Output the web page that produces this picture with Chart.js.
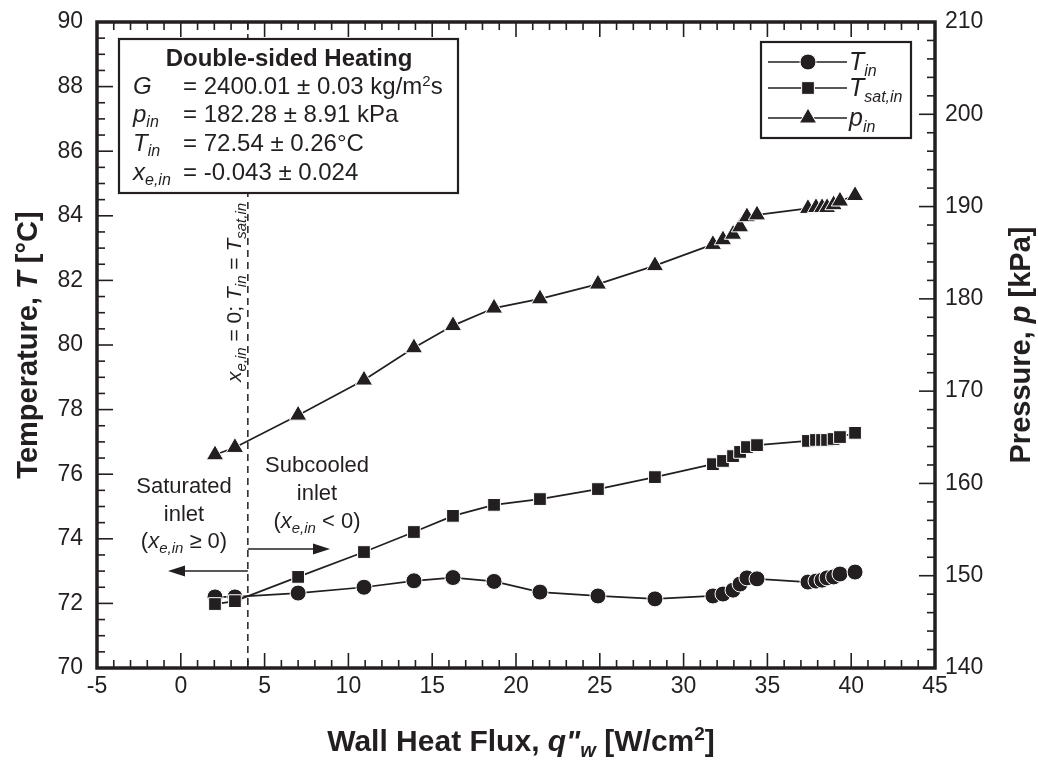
<!DOCTYPE html>
<html><head><meta charset="utf-8">
<script src="https://cdn.jsdelivr.net/npm/chart.js@4.4.1/dist/chart.umd.min.js"></script>
<style>html,body{margin:0;padding:0;background:#fff;}#wrap{width:1038px;height:761px;position:relative}</style>
</head><body><div id="wrap"><canvas id="c" width="1038" height="761"></canvas></div>
<script>
// ---- data ----
const qFlux  = [2.04, 3.23, 7.0, 10.93, 13.91, 16.24, 18.69, 21.43, 24.89, 28.29, 31.75, 32.35, 32.95, 33.37, 33.78, 34.38, 37.42, 37.9, 38.26, 38.56, 38.95, 39.33, 40.23];
const tIn    = [72.2, 72.2, 72.32, 72.5, 72.7, 72.8, 72.68, 72.35, 72.23, 72.14, 72.23, 72.29, 72.41, 72.6, 72.79, 72.76, 72.66, 72.69, 72.72, 72.79, 72.82, 72.91, 72.97];
const tSatIn = [71.98, 72.07, 72.82, 73.59, 74.21, 74.71, 75.05, 75.23, 75.54, 75.91, 76.31, 76.41, 76.56, 76.69, 76.84, 76.9, 77.03, 77.06, 77.06, 77.06, 77.09, 77.15, 77.28];
const pIn    = [163.1, 163.9, 167.4, 171.2, 174.7, 177.1, 179.0, 180.0, 181.6, 183.6, 185.9, 186.4, 187.0, 187.8, 188.9, 189.1, 189.8, 189.9, 189.9, 189.9, 190.2, 190.6, 191.2];
const xTicks = [-5, 0, 5, 10, 15, 20, 25, 30, 35, 40, 45];
const tTicks = [70, 72, 74, 76, 78, 80, 82, 84, 86, 88, 90];
const pTicks = [140, 150, 160, 170, 180, 190, 200, 210];
const satBoundary = 4;

const INK = '#231f20';
const FAM = '"Liberation Sans", Arial, Helvetica, sans-serif';

function rich(ctx, segs, x, y, align) {
  let w = 0;
  segs.forEach(s => { ctx.font = s[1]; w += ctx.measureText(s[0]).width; });
  let cx = align === 'center' ? x - w / 2 : (align === 'right' ? x - w : x);
  ctx.textAlign = 'left'; ctx.textBaseline = 'alphabetic';
  segs.forEach(s => { ctx.font = s[1]; ctx.fillText(s[0], cx, y + (s[2] || 0)); cx += ctx.measureText(s[0]).width; });
}
function seg(ctx, x1, y1, x2, y2) { ctx.beginPath(); ctx.moveTo(x1, y1); ctx.lineTo(x2, y2); ctx.stroke(); }
function arrow(ctx, x1, y, x2) {
  const dir = Math.sign(x2 - x1), hl = 17, hw = 5.5;
  ctx.lineWidth = 1.7; seg(ctx, x1, y, x2 - dir * hl + dir, y);
  ctx.beginPath(); ctx.moveTo(x2, y); ctx.lineTo(x2 - dir * hl, y - hw); ctx.lineTo(x2 - dir * hl, y + hw); ctx.closePath(); ctx.fill();
}

const R = (s) => 'normal ' + s + 'px ' + FAM;
const I = (s) => 'italic ' + s + 'px ' + FAM;
const B = (s) => 'bold ' + s + 'px ' + FAM;
const BI = (s) => 'italic bold ' + s + 'px ' + FAM;

const decor = {
  id: 'decor',
  beforeDatasetsDraw(chart) {
    const ctx = chart.ctx, ca = chart.chartArea, xs = chart.scales.x;
    ctx.save();
    ctx.strokeStyle = INK; ctx.lineWidth = 1.5; ctx.setLineDash([7, 5]);
    const bx = xs.getPixelForValue(satBoundary);
    seg(ctx, bx, ca.top, bx, ca.bottom);
    ctx.setLineDash([]);
    ctx.fillStyle = INK; ctx.strokeStyle = INK;
    arrow(ctx, bx, 549, 330);
    arrow(ctx, bx, 571, 168);
    ctx.restore();
  },
  afterDatasetsDraw(chart) {
    const ctx = chart.ctx, ca = chart.chartArea, xs = chart.scales.x, ys = chart.scales.y, ps = chart.scales.p;
    ctx.save();
    ctx.strokeStyle = INK; ctx.fillStyle = INK; ctx.lineWidth = 1.6;
    for (let v = -5; v <= 45; v += 1) {
      const px = xs.getPixelForValue(v), len = (v % 5 === 0) ? 15 : 8;
      seg(ctx, px, ca.bottom, px, ca.bottom - len);
      seg(ctx, px, ca.top, px, ca.top + len);
    }
    for (let v = 70; v <= 90; v += 0.5) {
      const py = ys.getPixelForValue(v), len = (v % 2 === 0) ? 16 : 8;
      seg(ctx, ca.left, py, ca.left + len, py);
    }
    for (let v = 140; v <= 210; v += 2) {
      const py = ps.getPixelForValue(v), len = (v % 10 === 0) ? 16 : 8;
      seg(ctx, ca.right, py, ca.right - len, py);
    }
    ctx.lineWidth = 3.5;
    ctx.strokeRect(ca.left, ca.top, ca.right - ca.left, ca.bottom - ca.top);

    // region labels
    rich(ctx, [['Saturated', R(22)]], 184, 493, 'center');
    rich(ctx, [['inlet', R(22)]], 184, 521, 'center');
    rich(ctx, [['(', R(22)], ['x', I(22)], ['e,in', I(15), 5], [' \u2265 0)', R(22)]], 184, 548, 'center');
    rich(ctx, [['Subcooled', R(22)]], 317, 472, 'center');
    rich(ctx, [['inlet', R(22)]], 317, 500, 'center');
    rich(ctx, [['(', R(22)], ['x', I(22)], ['e,in', I(15), 5], [' < 0)', R(22)]], 317, 528, 'center');

    // rotated boundary label
    ctx.save();
    ctx.translate(241, 382); ctx.rotate(-Math.PI / 2);
    rich(ctx, [['x', I(21)], ['e,in', I(15), 5], [' = 0; ', R(21)], ['T', I(21)], ['in', I(15), 5], [' = ', R(21)], ['T', I(21)], ['sat,in', I(15), 5]], 0, 0, 'left');
    ctx.restore();

    // info box
    ctx.fillStyle = '#fff'; ctx.fillRect(119, 39, 339, 154);
    ctx.lineWidth = 2.2; ctx.strokeRect(119, 39, 339, 154);
    ctx.fillStyle = INK;
    rich(ctx, [['Double-sided Heating', B(24)]], 289, 66, 'center');
    rich(ctx, [['G', I(24)]], 133, 94, 'left');
    rich(ctx, [['= 2400.01 \u00b1 0.03 kg/m', R(24)], ['2', R(15), -8], ['s', R(24)]], 183, 94, 'left');
    rich(ctx, [['p', I(24)], ['in', I(16), 5]], 133, 122, 'left');
    rich(ctx, [['= 182.28 \u00b1 8.91 kPa', R(24)]], 183, 122, 'left');
    rich(ctx, [['T', I(24)], ['in', I(16), 5]], 133, 151, 'left');
    rich(ctx, [['= 72.54 \u00b1 0.26\u00b0C', R(24)]], 183, 151, 'left');
    rich(ctx, [['x', I(24)], ['e,in', I(16), 5]], 133, 180, 'left');
    rich(ctx, [['= -0.043 \u00b1 0.024', R(24)]], 183, 180, 'left');

    // legend
    ctx.fillStyle = '#fff'; ctx.fillRect(761, 42, 150, 96);
    ctx.lineWidth = 2.2; ctx.strokeStyle = INK; ctx.strokeRect(761, 42, 150, 96);
    const rows = [[62, 'circle', 8, [['T', I(25)], ['in', I(16), 6]]],
                  [88, 'rect', 9, [['T', I(25)], ['sat,in', I(16), 6]]],
                  [118, 'triangle', 10, [['p', I(25)], ['in', I(16), 6]]]];
    rows.forEach(r => {
      ctx.lineWidth = 1.7; ctx.strokeStyle = INK;
      seg(ctx, 768, r[0], 847, r[0]);
      ctx.fillStyle = INK; ctx.strokeStyle = '#fff'; ctx.lineWidth = 1;
      Chart.helpers.drawPoint(ctx, { pointStyle: r[1], radius: r[2], rotation: 0, borderWidth: 1 }, 808, r[0]);
      ctx.fillStyle = INK;
      rich(ctx, r[3], 849, r[0] + 8, 'left');
    });

    // axis titles
    ctx.fillStyle = INK;
    ctx.save(); ctx.translate(37, (ca.top + ca.bottom) / 2); ctx.rotate(-Math.PI / 2);
    rich(ctx, [['Temperature, ', B(29)], ['T', BI(29)], [' [\u00b0C]', B(29)]], 0, 0, 'center');
    ctx.restore();
    ctx.save(); ctx.translate(1030, (ca.top + ca.bottom) / 2); ctx.rotate(-Math.PI / 2);
    rich(ctx, [['Pressure, ', B(29)], ['p', BI(29)], [' [kPa]', B(29)]], 0, 0, 'center');
    ctx.restore();
    rich(ctx, [['Wall Heat Flux, ', B(30)], ['q"', BI(30)], ['w', BI(20), 6], [' [W/cm', B(30)], ['2', B(19), -11], [']', B(30)]], (ca.left + ca.right) / 2 + 5, 751, 'center');
    ctx.restore();
  }
};

const mk = (vals, label, style, r, axis, order) => ({
  label, data: qFlux.map((x, i) => ({ x, y: vals[i] })), yAxisID: axis, order,
  borderColor: INK, borderWidth: 1.7, backgroundColor: INK,
  pointStyle: style, pointRadius: r, pointBackgroundColor: INK,
  pointBorderColor: '#fff', pointBorderWidth: 1, tension: 0, fill: false
});

const noPadV = s => { s.paddingTop = 0; s.paddingBottom = 0; };
const tickFont = { family: FAM, size: 23 };
new Chart(document.getElementById('c'), {
  type: 'line',
  data: { datasets: [
    mk(tIn, 'T_in', 'circle', 8, 'y', 3),
    mk(tSatIn, 'T_sat,in', 'rect', 9, 'y', 2),
    mk(pIn, 'p_in', 'triangle', 10, 'p', 1)
  ] },
  options: {
    responsive: false, animation: false, devicePixelRatio: 1,
    layout: { padding: { top: 22, left: 0, right: 0, bottom: 0 } },
    plugins: { legend: { display: false }, tooltip: { enabled: false } },
    scales: {
      x: { type: 'linear', min: -5, max: 45, grid: { display: false, drawTicks: false }, border: { display: false },
           ticks: { font: tickFont, color: INK, padding: 5, autoSkip: false, maxRotation: 0 },
           afterBuildTicks: s => { s.ticks = xTicks.map(v => ({ value: v })); },
           afterFit: s => { s.height = 93; s.paddingLeft = 0; s.paddingRight = 0; } },
      y: { type: 'linear', position: 'left', min: 70, max: 90, grid: { display: false, drawTicks: false }, border: { display: false },
           ticks: { font: tickFont, color: INK, padding: 14, autoSkip: false },
           afterBuildTicks: s => { s.ticks = tTicks.map(v => ({ value: v })); },
           afterFit: s => { s.width = 97; noPadV(s); } },
      p: { type: 'linear', position: 'right', min: 140, max: 210, grid: { display: false, drawTicks: false }, border: { display: false },
           ticks: { font: tickFont, color: INK, padding: 10, autoSkip: false },
           afterBuildTicks: s => { s.ticks = pTicks.map(v => ({ value: v })); },
           afterFit: s => { s.width = 103; noPadV(s); } }
    }
  },
  plugins: [decor]
});
</script></body></html>
